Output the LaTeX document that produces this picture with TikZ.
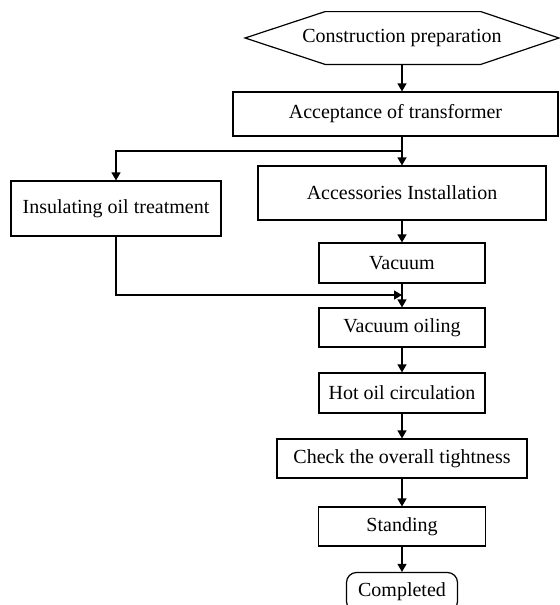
\documentclass[tikz,border=0pt]{standalone}
\usepackage{fontspec}
\setmainfont{Liberation Serif}
\usetikzlibrary{arrows.meta,positioning,calc}

\begin{document}
\begin{tikzpicture}[x=0.5pt, y=-0.5pt,
    font=\fontsize{10}{12}\selectfont,
    stepbox/.style={draw, rectangle, inner sep=0pt, line width=0.6pt, align=center},
    startbox/.style={rectangle, inner sep=0pt},
    endbox/.style={draw, rectangle, rounded corners=5pt, inner sep=0pt, line width=0.6pt},
    arr/.style={-{Triangle[length=4pt,width=4.5pt]}, line width=0.6pt},
    line/.style={line width=0.6pt}
]
    \useasboundingbox (0,0) rectangle (559,605);

    % Main steps
    \node[startbox, minimum width=156.5pt, minimum height=26pt] (prep) at (402,38) {Construction preparation};
    \node[stepbox, minimum width=162.5pt, minimum height=22pt] (accept) at (395.5,114) {Acceptance of transformer};
    \node[stepbox, minimum width=144pt, minimum height=27pt] (access) at (402,193) {Accessories Installation};
    \node[stepbox, minimum width=105pt, minimum height=27.5pt] (insul) at (116,208.5) {Insulating oil treatment};
    \node[stepbox, minimum width=83pt, minimum height=20pt] (vac) at (402,263) {Vacuum};
    \node[stepbox, minimum width=83pt, minimum height=19.5pt] (voil) at (402,327.5) {Vacuum oiling};
    \node[stepbox, minimum width=83pt, minimum height=20pt] (hot) at (402,393) {Hot oil circulation};
    \node[stepbox, minimum width=125pt, minimum height=19.5pt] (check) at (402,458.5) {Check the overall tightness};
    \node[stepbox, minimum width=83.5pt, minimum height=19.5pt] (stand) at (402,526.5) {Standing};
    \node[endbox, minimum width=55.5pt, minimum height=19.5pt] (done) at (402,592) {Completed};

    % Hexagon outline round the first step
    \draw[line] (prep.west) -- ($(prep.north west)+(80,0)$) -- ($(prep.north east)+(-78,0)$)
        -- (prep.east) -- ($(prep.south east)+(-78,0)$) -- ($(prep.south west)+(80,0)$) -- cycle;

    % Branch points
    \coordinate (split) at (402,151);
    \coordinate (join) at (402,295);

    % Connectors
    \draw[arr] (prep.south) -- (prep.south |- accept.north);
    \draw[arr] (prep.south |- accept.south) -- (access.north);
    \draw[arr] (split) -| (insul.north);
    \draw[arr] (access.south) -- (vac.north);
    \draw[arr] (insul.south) |- (join);
    \draw[arr] (vac.south) -- (voil.north);
    \draw[arr] (voil.south) -- (hot.north);
    \draw[arr] (hot.south) -- (check.north);
    \draw[arr] (check.south) -- (stand.north);
    \draw[arr] (stand.south) -- (done.north);
\end{tikzpicture}
\end{document}
